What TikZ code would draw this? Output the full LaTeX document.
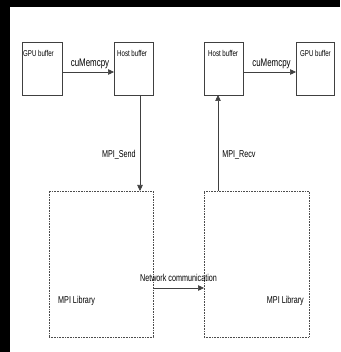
\documentclass[tikz,border=0pt]{standalone}
\usepackage{fontspec}
\setmainfont[FakeStretch=0.72]{Liberation Sans}
\usepackage{tikz}
\usetikzlibrary{arrows.meta}

\begin{document}
\begin{tikzpicture}[
    x=1pt, y=-1pt,
    buf/.style={draw=black!75, line width=0.6pt, inner sep=0pt, outer sep=0pt, minimum height=53pt},
    lib/.style={draw=black!70, densely dotted, line width=0.6pt, inner sep=0pt, outer sep=0pt, minimum height=146pt},
    arr/.style={draw=black!75, line width=0.6pt, -{Triangle[length=6pt, width=5.5pt]}},
    smalltxt/.style={font=\fontsize{8.5}{10}\selectfont, inner sep=0pt},
    txt/.style={font=\fontsize{10}{12}\selectfont, inner sep=1pt},
]
% y levels (pixels, downwards)
\def\yBox{68.5}
\def\yLib{264}
\def\yTxt{57}

% Frame
\fill[black] (0,0) rectangle (340,352);
\fill[white] (10,7) rectangle (340,352);

% Buffers
\node[buf, minimum width=40pt] (gpuL) at (42,\yBox) {};
\node[buf, minimum width=39pt] (hostL) at (133.5,\yBox) {};
\node[buf, minimum width=39pt] (hostR) at (223.5,\yBox) {};
\node[buf, minimum width=38pt] (gpuR) at (315,\yBox) {};

\node[smalltxt, anchor=base west] (tGpuL) at (23,\yTxt) {GPU buffer};
\node[smalltxt, anchor=base west] (tHostL) at (117,\yTxt) {Host buffer};
\node[smalltxt, anchor=base west] (tHostR) at (208,\yTxt) {Host buffer};
\node[smalltxt, anchor=base west] (tGpuR) at (300,\yTxt) {GPU buffer};

% MPI libraries
\node[lib, minimum width=104pt] (mpiL) at (101,\yLib) {};
\node[lib, minimum width=105pt] (mpiR) at (256.5,\yLib) {};

\node[txt, anchor=base west] (tMpiL) at (57,303) {MPI Library};
\node[txt, anchor=base east] (tMpiR) at (305,303) {MPI Library};

% Connector levels
\coordinate (cpyY) at (0,72);
\coordinate (sendX) at (140,0);
\coordinate (recvX) at (218,0);
\coordinate (netY) at (0,288);

% Copies
\draw[arr] (gpuL.east |- cpyY) -- (hostL.west |- cpyY)
    node[midway, above=2pt, txt, font=\fontsize{11}{13}\selectfont, xshift=2pt] (lCpyL) {cuMemcpy};
\draw[arr] (hostR.east |- cpyY) -- (gpuR.west |- cpyY)
    node[midway, above=2pt, txt, font=\fontsize{11}{13}\selectfont, xshift=2pt] (lCpyR) {cuMemcpy};

% Send / receive
\draw[arr] (hostL.south -| sendX) -- (mpiL.north -| sendX)
    node[pos=0.62, left=3pt, txt] (lSend) {MPI\_Send};
\draw[arr] (mpiR.north -| recvX) -- (hostR.south -| recvX)
    node[pos=0.375, right=3pt, txt] (lRecv) {MPI\_Recv};

% Network
\draw[arr] (mpiL.east |- netY) -- (mpiR.west |- netY)
    node[midway, above=5pt, txt] (lNet) {Network communication};

\end{tikzpicture}
\end{document}
